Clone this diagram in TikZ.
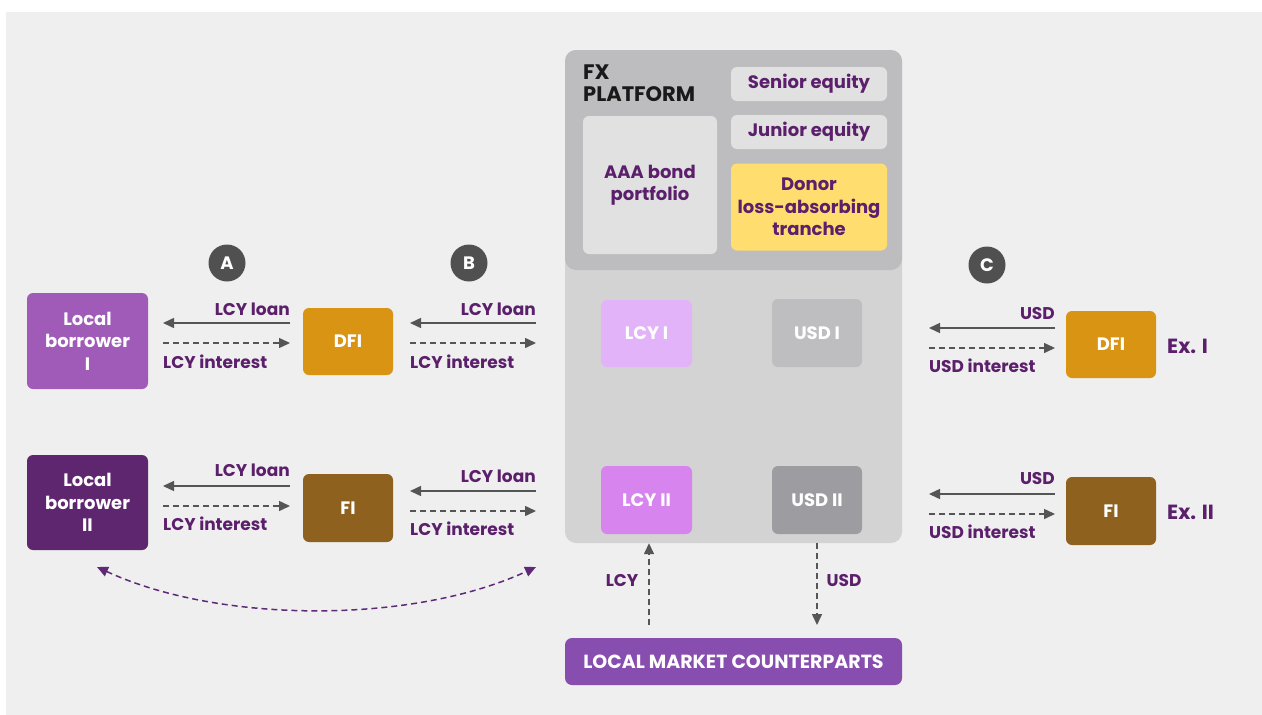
\documentclass[tikz,border=0pt]{standalone}
\usepackage{fontspec}
\setmainfont{Poppins}
\usetikzlibrary{arrows.meta,positioning}

\definecolor{bggray}{HTML}{EFEFEF}
\definecolor{platlight}{HTML}{D3D3D3}
\definecolor{platdark}{HTML}{BDBDBF}
\definecolor{innergray}{HTML}{E1E1E1}
\definecolor{donoryellow}{HTML}{FFDD6F}
\definecolor{lcyone}{HTML}{E3B3F9}
\definecolor{lcytwo}{HTML}{D884EE}
\definecolor{usdone}{HTML}{BEBEC0}
\definecolor{usdtwo}{HTML}{9D9DA1}
\definecolor{marketpurple}{HTML}{874DAF}
\definecolor{borrowone}{HTML}{A05BB8}
\definecolor{borrowtwo}{HTML}{5E266F}
\definecolor{dfiorange}{HTML}{D99414}
\definecolor{fibrown}{HTML}{8E611F}
\definecolor{labelpurple}{HTML}{5B1F6B}
\definecolor{arrowgray}{HTML}{555555}
\definecolor{circlegray}{HTML}{505050}
\definecolor{swappurple}{HTML}{5E2A78}

\newcommand\boxfont{\fontsize{18}{22.5}\selectfont\bfseries}
\newcommand\lblfont{\fontsize{17}{20}\selectfont\bfseries}
\newcommand\titlefont{\fontsize{21}{22}\selectfont\bfseries}
\newcommand\exfont{\fontsize{20.5}{24}\selectfont\bfseries}
\newcommand\marketfont{\fontsize{19}{22}\selectfont\bfseries}

\tikzstyle{box} = [rectangle, rounded corners=6pt, inner sep=0pt, align=center, text=white, font=\boxfont]
\tikzstyle{tranche} = [box, fill=innergray, text=labelpurple]
\tikzstyle{panel} = [rectangle, rounded corners=11pt, inner sep=0pt, minimum width=337pt]
\tikzstyle{lbl} = [inner sep=0pt, text=labelpurple, font=\lblfont]
\tikzstyle{flow} = [line width=1.5pt, draw=arrowgray, -{Triangle[length=11pt,width=10pt]}]
\tikzstyle{backflow} = [flow, dash pattern=on 6pt off 4pt]
\tikzstyle{marker} = [circle, fill=circlegray, text=white, minimum size=37pt, inner sep=0pt, font=\boxfont]

\begin{document}
\begin{tikzpicture}[x=1pt, y=-1pt]
\useasboundingbox (0,0) rectangle (1262,715);
\fill[bggray] (6,12) rectangle (1262,715);

% FX platform
\node (platform)[panel, fill=platlight, minimum height=493pt] at (733.5,296.5) {};
\node (platformtop)[panel, fill=platdark, minimum height=220pt] at (733.5,160) {};
\node (fxtitle)[anchor=north west, inner sep=0pt, align=left, font=\titlefont, text=black!90] at (583,65) {FX\\PLATFORM};
\node (senior)[tranche, minimum width=156pt, minimum height=34pt] at (809,84) {Senior equity};
\node (junior)[tranche, minimum width=156pt, minimum height=34pt] at (809,132) {Junior equity};
\node (bonds)[tranche, minimum width=134pt, minimum height=138pt] at (650,185) {AAA bond\\portfolio};
\node (donor)[tranche, fill=donoryellow, minimum width=156pt, minimum height=87pt] at (809,207) {Donor\\loss-absorbing\\tranche};

\node (lcyI)[box, fill=lcyone, minimum width=91pt, minimum height=67pt] at (646.5,333.5) {LCY I};
\node (usdI)[box, fill=usdone, minimum width=90pt, minimum height=68pt] at (817,333) {USD I};
\node (lcyII)[box, fill=lcytwo, minimum width=91pt, minimum height=68pt] at (646.5,500) {LCY II};
\node (usdII)[box, fill=usdtwo, minimum width=90pt, minimum height=68pt] at (817,500) {USD II};

\node (market)[box, rounded corners=7pt, fill=marketpurple, minimum width=337pt, minimum height=47pt, font=\marketfont] at (733.5,661.5) {LOCAL MARKET COUNTERPARTS};

% borrowers and lenders
\node (borrowerI)[box, fill=borrowone, minimum width=121pt, minimum height=96pt] at (87.5,341) {Local\\borrower\\I};
\node (borrowerII)[box, fill=borrowtwo, minimum width=121pt, minimum height=95pt] at (87.5,502.5) {Local\\borrower\\II};
\node (dfiL)[box, fill=dfiorange, minimum width=90pt, minimum height=67pt] at (348,341.5) {DFI};
\node (fiL)[box, fill=fibrown, minimum width=90pt, minimum height=68pt] at (348,508) {FI};
\node (dfiR)[box, fill=dfiorange, minimum width=90pt, minimum height=67pt] at (1111,344.5) {DFI};
\node (fiR)[box, fill=fibrown, minimum width=90pt, minimum height=68pt] at (1111,511) {FI};
\node (exI)[anchor=west, inner sep=0pt, text=labelpurple, font=\exfont] at (1167,346) {Ex. I};
\node (exII)[anchor=west, inner sep=0pt, text=labelpurple, font=\exfont] at (1167,512) {Ex. II};

\node (markA)[marker] at (227,263) {A};
\node (markB)[marker] at (469,263) {B};
\node (markC)[marker] at (987,265) {C};

% row I flows
\coordinate (a1l) at (163,323); \coordinate (a1r) at (290,323);
\coordinate (a2l) at (163,343); \coordinate (a2r) at (290,343);
\draw [flow](a1r) -- (a1l);
\draw [backflow](a2l) -- (a2r);
\node (loanA)[lbl, anchor=east] at (290,309) {LCY loan};
\node (intA)[lbl, anchor=west] at (163,362) {LCY interest};

\coordinate (b1l) at (410,323); \coordinate (b1r) at (536,323);
\coordinate (b2l) at (410,343); \coordinate (b2r) at (536,343);
\draw [flow](b1r) -- (b1l);
\draw [backflow](b2l) -- (b2r);
\node (loanB)[lbl, anchor=east] at (536,309) {LCY loan};
\node (intB)[lbl, anchor=west] at (410,362) {LCY interest};

\coordinate (c1l) at (929,328); \coordinate (c1r) at (1055,328);
\coordinate (c2l) at (929,348); \coordinate (c2r) at (1055,348);
\draw [flow](c1r) -- (c1l);
\draw [backflow](c2l) -- (c2r);
\node (usdC)[lbl, anchor=east] at (1055,314) {USD};
\node (intC)[lbl, anchor=west] at (929,366) {USD interest};

% row II flows
\coordinate (d1l) at (163,486); \coordinate (d1r) at (290,486);
\coordinate (d2l) at (163,506); \coordinate (d2r) at (290,506);
\draw [flow](d1r) -- (d1l);
\draw [backflow](d2l) -- (d2r);
\node (loanD)[lbl, anchor=east] at (290,470) {LCY loan};
\node (intD)[lbl, anchor=west] at (163,524) {LCY interest};

\coordinate (e1l) at (410,491); \coordinate (e1r) at (536,491);
\coordinate (e2l) at (410,511); \coordinate (e2r) at (536,511);
\draw [flow](e1r) -- (e1l);
\draw [backflow](e2l) -- (e2r);
\node (loanE)[lbl, anchor=east] at (536,476) {LCY loan};
\node (intE)[lbl, anchor=west] at (410,529) {LCY interest};

\coordinate (f1l) at (929,494); \coordinate (f1r) at (1055,494);
\coordinate (f2l) at (929,514); \coordinate (f2r) at (1055,514);
\draw [flow](f1r) -- (f1l);
\draw [backflow](f2l) -- (f2r);
\node (usdF)[lbl, anchor=east] at (1055,479) {USD};
\node (intF)[lbl, anchor=west] at (929,532) {USD interest};

% market flows
\coordinate (lcyfoot) at (649,625);
\coordinate (usdfoot) at (817,625);
\draw [backflow](lcyfoot) -- (lcyfoot |- platform.south);
\draw [backflow](usdfoot |- platform.south) -- (usdfoot);
\node (lcyin)[lbl] at (622,581) {LCY};
\node (usdout)[lbl] at (844,581) {USD};

% swap between borrower II and platform
\coordinate (swapL) at (97,567);
\coordinate (swapR) at (536,567);
\draw [line width=1.5pt, draw=swappurple, dash pattern=on 6pt off 4pt, {Triangle[length=11pt,width=10pt]}-{Triangle[length=11pt,width=10pt]}, fill=none]
  (swapL) .. controls (220,624) and (413,624) .. (swapR);
\end{tikzpicture}
\end{document}
